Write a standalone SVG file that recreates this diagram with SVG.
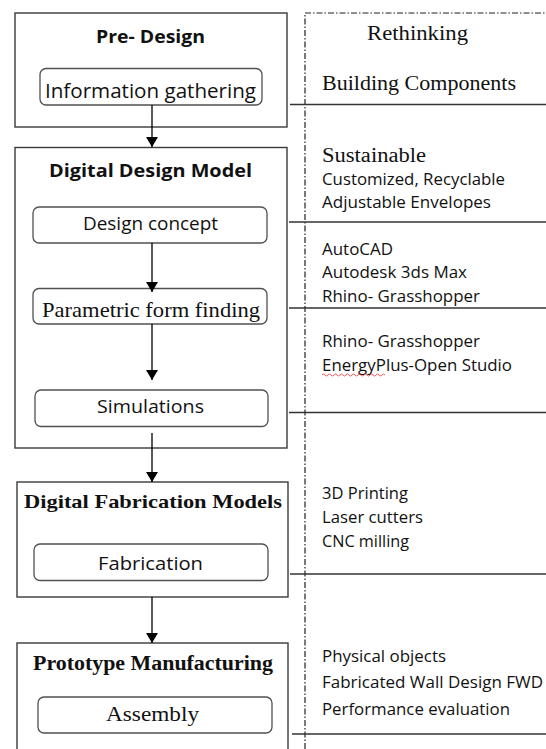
<svg xmlns="http://www.w3.org/2000/svg" width="546" height="749" viewBox="0 0 546 749">
<defs>
<marker id="ah" markerWidth="10" markerHeight="12" refX="10" refY="6" orient="auto" markerUnits="userSpaceOnUse">
<path d="M0,0 L10,6 L0,12 Z" fill="#000"/>
</marker>
<style>
.frame{fill:#fff;stroke:#3a3a3a;stroke-width:1.4}
.step{fill:#fff;stroke:#505050;stroke-width:1.3}
.sans{font-family:"Open Sans","Noto Sans",sans-serif;fill:#111}
.serif{font-family:"Liberation Serif","Times New Roman",serif;fill:#111}
.b{font-weight:bold}
.conn{stroke:#000;stroke-width:1.3;fill:none}
.rule{stroke:#333;stroke-width:1.3}
.dd{stroke:#222;stroke-width:1.2;stroke-dasharray:6 2 1.5 2;fill:none}
</style>
</defs>
<rect width="546" height="749" fill="#fff"/>

<g id="right-panel">
<path class="dd" d="M305,749 L305,13 L546,13"/>
<line class="rule" x1="290" y1="104.5" x2="546" y2="104.5"/>
<line class="rule" x1="289" y1="222" x2="546" y2="222"/>
<line class="rule" x1="289" y1="308" x2="546" y2="308"/>
<line class="rule" x1="289" y1="412.5" x2="546" y2="412.5"/>
<line class="rule" x1="290" y1="574" x2="546" y2="574"/>
<line class="rule" x1="292" y1="734" x2="546" y2="734"/>
<text class="serif" x="367" y="40" font-size="20" textLength="101" lengthAdjust="spacingAndGlyphs">Rethinking</text>
<text class="serif" x="322" y="90" font-size="20" textLength="194" lengthAdjust="spacingAndGlyphs">Building Components</text>
<text class="serif" x="322" y="162" font-size="20" textLength="104" lengthAdjust="spacingAndGlyphs">Sustainable</text>
<text class="sans" x="322" y="185" font-size="15.5" textLength="183" lengthAdjust="spacingAndGlyphs">Customized, Recyclable</text>
<text class="sans" x="322" y="208" font-size="15.5" textLength="169" lengthAdjust="spacingAndGlyphs">Adjustable Envelopes</text>
<text class="sans" x="322" y="255" font-size="15.5" textLength="71" lengthAdjust="spacingAndGlyphs">AutoCAD</text>
<text class="sans" x="322" y="278" font-size="15.5" textLength="145" lengthAdjust="spacingAndGlyphs">Autodesk 3ds Max</text>
<text class="sans" x="322" y="302" font-size="15.5" textLength="158" lengthAdjust="spacingAndGlyphs">Rhino- Grasshopper</text>
<text class="sans" x="322" y="347" font-size="15.5" textLength="158" lengthAdjust="spacingAndGlyphs">Rhino- Grasshopper</text>
<text class="sans" x="322" y="371" font-size="15.5" textLength="190" lengthAdjust="spacingAndGlyphs">EnergyPlus-Open Studio</text>
<path d="M322,375 q1.5,-2 3,0 t3,0 t3,0 t3,0 t3,0 t3,0 t3,0 t3,0 t3,0 t3,0 t3,0 t3,0 t3,0 t3,0 t3,0 t3,0 t3,0 t3,0 t3,0 t3,0 t3,0" fill="none" stroke="#e03030" stroke-width="0.8"/>
<text class="sans" x="322" y="499" font-size="15.5" textLength="86" lengthAdjust="spacingAndGlyphs">3D Printing</text>
<text class="sans" x="322" y="523" font-size="15.5" textLength="101" lengthAdjust="spacingAndGlyphs">Laser cutters</text>
<text class="sans" x="322" y="547" font-size="15.5" textLength="87" lengthAdjust="spacingAndGlyphs">CNC milling</text>
<text class="sans" x="322" y="662" font-size="15.5" textLength="124" lengthAdjust="spacingAndGlyphs">Physical objects</text>
<text class="sans" x="322" y="688" font-size="15.5" textLength="221" lengthAdjust="spacingAndGlyphs">Fabricated Wall Design FWD</text>
<text class="sans" x="322" y="715" font-size="15.5" textLength="188" lengthAdjust="spacingAndGlyphs">Performance evaluation</text>
</g>

<g id="pre-design">
<rect class="frame" x="15" y="13" width="272" height="114"/>
<text class="sans b" x="96" y="43" font-size="18" textLength="109" lengthAdjust="spacingAndGlyphs">Pre- Design</text>
</g>
<g id="information-gathering">
<rect class="step" x="40" y="68.5" width="222" height="36.5" rx="6"/>
<text class="sans" x="45" y="98" font-size="19.5" textLength="211" lengthAdjust="spacingAndGlyphs">Information gathering</text>
</g>

<g id="digital-design-model">
<rect class="frame" x="15" y="147.5" width="272" height="300.5"/>
<text class="sans b" x="49" y="177" font-size="17" textLength="203" lengthAdjust="spacingAndGlyphs">Digital  Design Model</text>
</g>
<g id="design-concept">
<rect class="step" x="33" y="207" width="234" height="36" rx="6"/>
<text class="sans" x="83" y="230" font-size="18.5" textLength="135" lengthAdjust="spacingAndGlyphs">Design concept</text>
</g>
<g id="parametric-form-finding">
<rect class="step" x="33" y="288.5" width="234" height="35.5" rx="6"/>
<text class="serif" x="42" y="317" font-size="21" textLength="218" lengthAdjust="spacingAndGlyphs">Parametric form finding</text>
</g>
<g id="simulations">
<rect class="step" x="35" y="390" width="233" height="36.5" rx="6"/>
<text class="sans" x="97" y="413" font-size="18.5" textLength="107" lengthAdjust="spacingAndGlyphs">Simulations</text>
</g>

<g id="digital-fabrication-models">
<rect class="frame" x="17" y="482" width="271" height="115"/>
<text class="serif b" x="24" y="508" font-size="19.5" textLength="258" lengthAdjust="spacingAndGlyphs">Digital Fabrication Models</text>
</g>
<g id="fabrication">
<rect class="step" x="34" y="544" width="234" height="36.5" rx="6"/>
<text class="sans" x="98" y="570" font-size="18.5" textLength="105" lengthAdjust="spacingAndGlyphs">Fabrication</text>
</g>

<g id="prototype-manufacturing">
<rect class="frame" x="17" y="643" width="271" height="120"/>
<text class="serif b" x="33" y="670" font-size="20" textLength="240" lengthAdjust="spacingAndGlyphs">Prototype Manufacturing</text>
</g>
<g id="assembly">
<rect class="step" x="38" y="697" width="234" height="36" rx="6"/>
<text class="serif" x="106" y="721" font-size="21" textLength="93" lengthAdjust="spacingAndGlyphs">Assembly</text>
</g>

<g id="connectors">
<line class="conn" x1="152" y1="105" x2="152" y2="147" marker-end="url(#ah)"/>
<line class="conn" x1="152" y1="243" x2="152" y2="292" marker-end="url(#ah)"/>
<line class="conn" x1="152" y1="324" x2="152" y2="380" marker-end="url(#ah)"/>
<line class="conn" x1="152" y1="433" x2="152" y2="482" marker-end="url(#ah)"/>
<line class="conn" x1="152" y1="597" x2="152" y2="643" marker-end="url(#ah)"/>
</g>
</svg>
